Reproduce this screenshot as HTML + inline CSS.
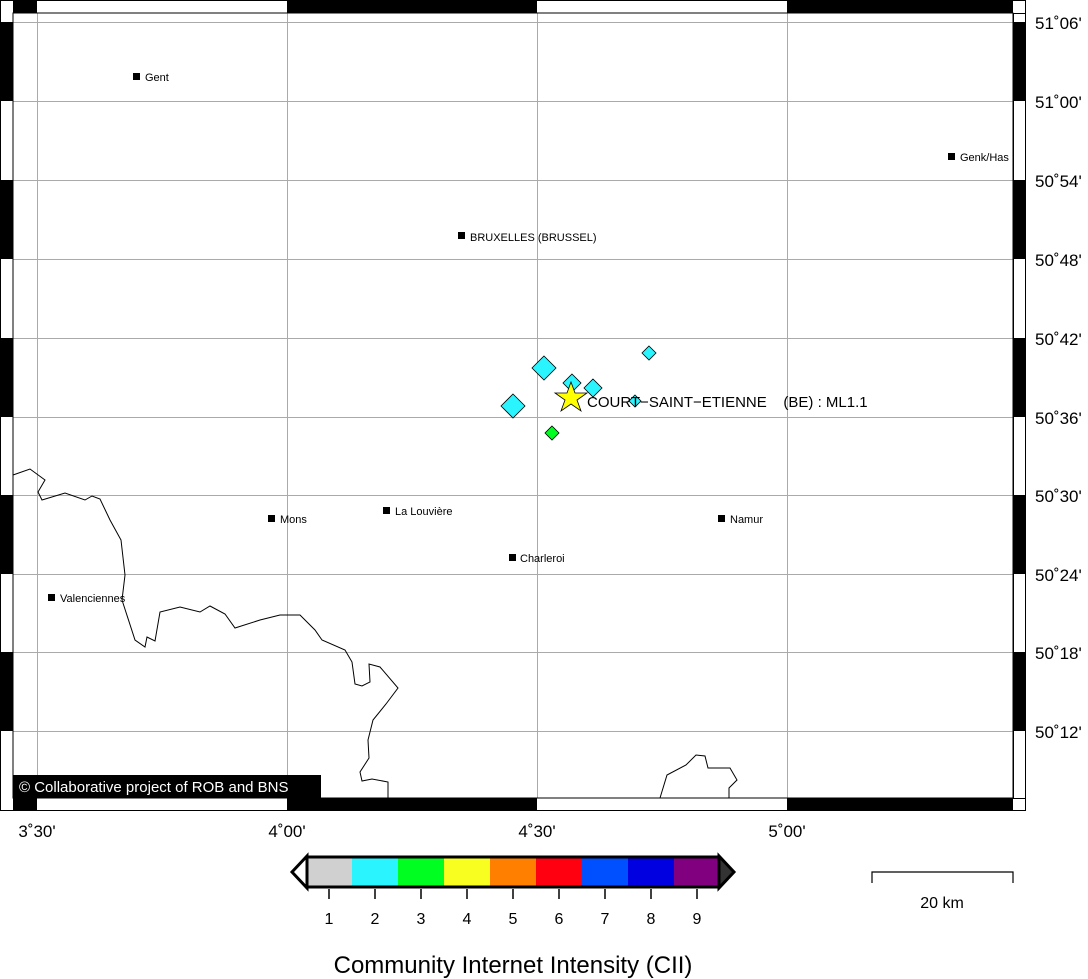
<!DOCTYPE html>
<html><head><meta charset="utf-8"><style>
html,body{margin:0;padding:0;background:#fff;}
svg{display:block;font-family:"Liberation Sans",Arial,sans-serif;}
</style></head><body>
<svg width="1088" height="979" viewBox="0 0 1088 979" xmlns="http://www.w3.org/2000/svg">
<rect width="1088" height="979" fill="#fff"/>
<g stroke="#aaa" stroke-width="1">
<line x1="37.5" y1="13" x2="37.5" y2="798"/><line x1="287.5" y1="13" x2="287.5" y2="798"/>
<line x1="537.5" y1="13" x2="537.5" y2="798"/><line x1="787.5" y1="13" x2="787.5" y2="798"/>
<line x1="13" y1="22.5" x2="1013" y2="22.5"/><line x1="13" y1="101.5" x2="1013" y2="101.5"/>
<line x1="13" y1="180.5" x2="1013" y2="180.5"/><line x1="13" y1="259.5" x2="1013" y2="259.5"/>
<line x1="13" y1="338.5" x2="1013" y2="338.5"/><line x1="13" y1="417.5" x2="1013" y2="417.5"/>
<line x1="13" y1="495.5" x2="1013" y2="495.5"/><line x1="13" y1="574.5" x2="1013" y2="574.5"/>
<line x1="13" y1="652.5" x2="1013" y2="652.5"/><line x1="13" y1="731.5" x2="1013" y2="731.5"/>
</g>
<g fill="none" stroke="#000" stroke-width="1">
<polyline points="13,475 30,469 45,480 38,492 42,500 65,493 85,500 92,496 100,499 110,520 121,540 125,575 122,600 135,640 145,647 147,637 155,641 160,612 180,607 200,612 210,606 225,614 235,628 260,620 280,615 300,615 315,630 322,640 345,650 352,662 355,684 362,686 370,682 369,664 380,667 398,688 386,704 373,720 368,740 369,758 360,772 362,781 372,779 388,782 388,798"/>
<polyline points="660,798 667,775 686,765 696,755 705,756 708,768 730,768 737,780 729,788 729,798"/>
</g>
<g font-size="11" fill="#000">
<rect x="133" y="73" width="7" height="7"/><text x="145" y="81">Gent</text>
<rect x="458" y="232" width="7" height="7"/><text x="470" y="241">BRUXELLES (BRUSSEL)</text>
<rect x="948" y="153" width="7" height="7"/><text x="960" y="161">Genk/Has</text>
<rect x="268" y="515" width="7" height="7"/><text x="280" y="523">Mons</text>
<rect x="383" y="507" width="7" height="7"/><text x="395" y="515">La Louvière</text>
<rect x="509" y="554" width="7" height="7"/><text x="520" y="562">Charleroi</text>
<rect x="718" y="515" width="7" height="7"/><text x="730" y="523">Namur</text>
<rect x="48" y="594" width="7" height="7"/><text x="60" y="602">Valenciennes</text>
</g>
<rect x="0.5" y="0.5" width="1025" height="810" fill="none" stroke="#000"/>
<rect x="1013" y="13" width="12" height="785" fill="#fff"/>
<rect x="13" y="13" width="1000" height="785" fill="none" stroke="#000"/>
<rect x="1013.5" y="13.5" width="12" height="785" fill="none" stroke="#000"/>
<g fill="#000">
<rect x="13" y="1" width="24" height="12"/><rect x="287" y="1" width="250" height="12"/><rect x="787" y="1" width="226" height="12"/>
<rect x="13" y="798" width="24" height="12"/><rect x="287" y="798" width="250" height="12"/><rect x="787" y="798" width="226" height="12"/>
<rect x="1" y="22" width="12" height="79"/><rect x="1" y="180" width="12" height="79"/><rect x="1" y="338" width="12" height="79"/><rect x="1" y="495" width="12" height="79"/><rect x="1" y="652" width="12" height="79"/>
<rect x="1013" y="22" width="12" height="79"/><rect x="1013" y="180" width="12" height="79"/><rect x="1013" y="338" width="12" height="79"/><rect x="1013" y="495" width="12" height="79"/><rect x="1013" y="652" width="12" height="79"/>
</g>
<g fill="#2af5ff" stroke="#000" stroke-width="0.8">
<polygon points="544,356 556,368 544,380 532,368"/>
<polygon points="513,394 525,406 513,418 501,406"/>
<polygon points="572,374 581,383 572,392 563,383"/>
<polygon points="593,379 602,388 593,397 584,388"/>
<polygon points="649,346 656,353 649,360 642,353"/>
<polygon points="635,395 641,401 635,407 629,401"/>
</g>
<polygon points="552,426 559,433 552,440 545,433" fill="#00ff20" stroke="#000" stroke-width="0.8"/>
<polygon points="571,382 575,393 587,393 577,400 581,411 571,404 561,411 565,400 555,393 567,393" fill="#ffff00" stroke="#000" stroke-width="0.8"/>
<text x="587" y="407" font-size="15" fill="#000" style="white-space:pre" xml:space="preserve">COURT−SAINT−ETIENNE    (BE) : ML1.1</text>
<rect x="13" y="775" width="308" height="23" fill="#000"/>
<text x="19" y="792" font-size="15" fill="#fff">© Collaborative project of ROB and BNS</text>
<g font-size="17" fill="#000">
<text x="37" y="837" text-anchor="middle">3˚30'</text>
<text x="287" y="837" text-anchor="middle">4˚00'</text>
<text x="537" y="837" text-anchor="middle">4˚30'</text>
<text x="787" y="837" text-anchor="middle">5˚00'</text>
<text x="1035" y="29">51˚06'</text>
<text x="1035" y="108">51˚00'</text>
<text x="1035" y="187">50˚54'</text>
<text x="1035" y="266">50˚48'</text>
<text x="1035" y="345">50˚42'</text>
<text x="1035" y="424">50˚36'</text>
<text x="1035" y="502">50˚30'</text>
<text x="1035" y="581">50˚24'</text>
<text x="1035" y="659">50˚18'</text>
<text x="1035" y="738">50˚12'</text>
</g>
<g>
<rect x="307" y="858" width="46" height="28" fill="#d0d0d0"/>
<rect x="352" y="858" width="46" height="28" fill="#2af5ff"/>
<rect x="398" y="858" width="46" height="28" fill="#00ff20"/>
<rect x="444" y="858" width="46" height="28" fill="#f8ff20"/>
<rect x="490" y="858" width="46" height="28" fill="#ff8000"/>
<rect x="536" y="858" width="46" height="28" fill="#ff0010"/>
<rect x="582" y="858" width="46" height="28" fill="#0050ff"/>
<rect x="628" y="858" width="46" height="28" fill="#0000e0"/>
<rect x="674" y="858" width="45" height="28" fill="#800080"/>
<polygon points="307,856 292,872 307,888" fill="#fff" stroke="#000" stroke-width="3"/>
<polygon points="719,856 734,872 719,888" fill="#333" stroke="#000" stroke-width="3"/>
<rect x="307" y="857" width="412" height="30" fill="none" stroke="#000" stroke-width="3"/>
<g stroke="#000" stroke-width="1.5">
<line x1="329" y1="889" x2="329" y2="899"/><line x1="375" y1="889" x2="375" y2="899"/><line x1="421" y1="889" x2="421" y2="899"/><line x1="467" y1="889" x2="467" y2="899"/><line x1="513" y1="889" x2="513" y2="899"/><line x1="559" y1="889" x2="559" y2="899"/><line x1="605" y1="889" x2="605" y2="899"/><line x1="651" y1="889" x2="651" y2="899"/><line x1="697" y1="889" x2="697" y2="899"/>
</g>
<g font-size="16" text-anchor="middle" fill="#000">
<text x="329" y="924">1</text><text x="375" y="924">2</text><text x="421" y="924">3</text><text x="467" y="924">4</text><text x="513" y="924">5</text><text x="559" y="924">6</text><text x="605" y="924">7</text><text x="651" y="924">8</text><text x="697" y="924">9</text>
</g>
<text x="513" y="973" font-size="24" text-anchor="middle" fill="#000">Community Internet Intensity (CII)</text>
</g>
<polyline points="872,883 872,872 1013,872 1013,883" fill="none" stroke="#000" stroke-width="1.2"/>
<text x="942" y="908" font-size="16" text-anchor="middle" fill="#000">20 km</text>
</svg>
</body></html>
